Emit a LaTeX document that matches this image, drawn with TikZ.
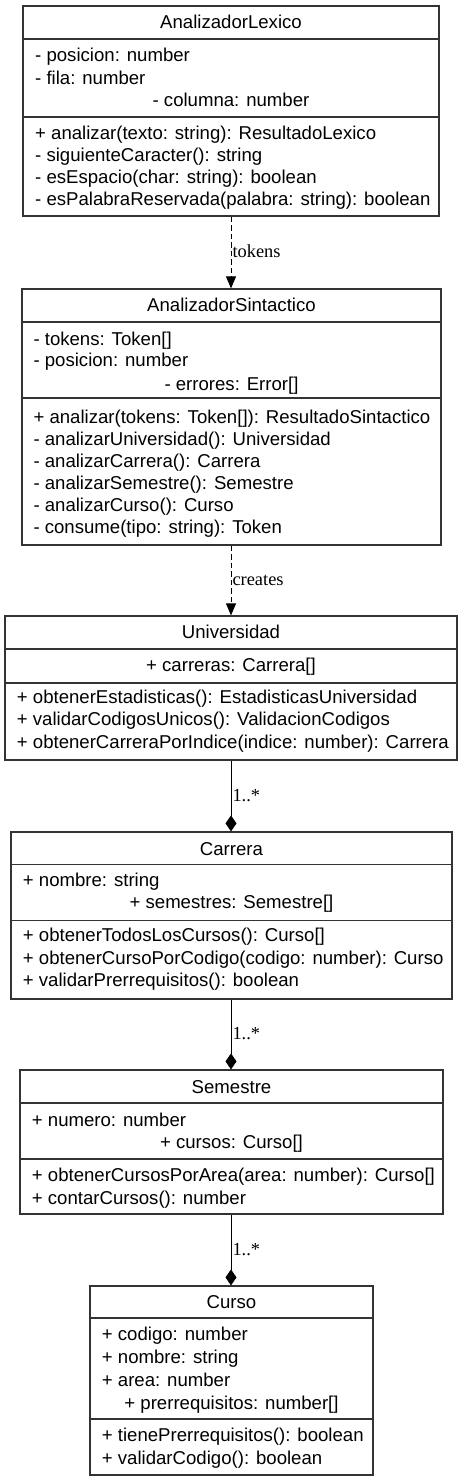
\documentclass[tikz,border=0pt]{standalone}
\usepackage{fontspec}
\setmainfont{Liberation Sans}
\newfontfamily\edgefont{Liberation Serif}
\usetikzlibrary{arrows.meta,positioning}

\tikzset{
  classbox/.style={draw=black!80, line width=1.2pt, fill=white, inner sep=0pt},
  classline/.style={draw=black!80, line width=1.2pt},
  classtitle/.style={font=\fontsize{18.6}{22}\selectfont, anchor=base, inner sep=0pt},
  member/.style={font=\fontsize{18.6}{22}\selectfont, anchor=base west, inner sep=0pt},
  midmember/.style={font=\fontsize{18.6}{22}\selectfont, anchor=base, inner sep=0pt},
  edgelabel/.style={font=\edgefont\fontsize{18.4}{22}\selectfont, anchor=base west, inner sep=0pt},
  dep/.style={line width=1pt, dash pattern=on 5.5pt off 3pt, -{Triangle[length=12pt,width=10pt]}},
  comp/.style={line width=1pt, -{Diamond[length=16pt,width=11pt]}}
}

\begin{document}
\begin{tikzpicture}[x=1pt, y=-1pt]
  \useasboundingbox (0,0) rectangle (463,1481);

  % AnalizadorLexico
  \node[classbox, minimum width=416pt, minimum height=210pt] (lexico) at (231,111) {};
  \draw[classline] (lexico.west |- 0,39) -- (lexico.east |- 0,39);
  \draw[classline] (lexico.west |- 0,117) -- (lexico.east |- 0,117);
  \node[classtitle] (lexicoT) at (231,28.3) {AnalizadorLexico};
  \node[member] (lexicoA0) at (35,61.7) {- posicion: number};
  \node[member] (lexicoA1) at (35,84.1) {- fila: number};
  \node[midmember] (lexicoA2) at (231,106) {- columna: number};
  \foreach \txt [count=\i from 0] in {+ analizar(texto: string): ResultadoLexico,
      - siguienteCaracter(): string, - esEspacio(char: string): boolean,
      - esPalabraReservada(palabra: string): boolean}
    \node[member] (lexicoM\i) at (35,139.3+22.2*\i) {\txt};

  % AnalizadorSintactico
  \node[classbox, minimum width=419pt, minimum height=256pt] (sintactico) at (231.5,417) {};
  \draw[classline] (sintactico.west |- 0,322) -- (sintactico.east |- 0,322);
  \draw[classline] (sintactico.west |- 0,398) -- (sintactico.east |- 0,398);
  \node[classtitle] (sintacticoT) at (231.5,311.7) {AnalizadorSintactico};
  \node[member] (sintacticoA0) at (33.3,345) {- tokens: Token[]};
  \node[member] (sintacticoA1) at (33.3,366.9) {- posicion: number};
  \node[midmember] (sintacticoA2) at (231.5,390) {- errores: Error[]};
  \foreach \txt [count=\i from 0] in {+ analizar(tokens: Token[]): ResultadoSintactico,
      - analizarUniversidad(): Universidad, - analizarCarrera(): Carrera,
      - analizarSemestre(): Semestre, - analizarCurso(): Curso,
      - consume(tipo: string): Token}
    \node[member] (sintacticoM\i) at (33.3,423.3+22*\i) {\txt};

  % Universidad
  \node[classbox, minimum width=452pt, minimum height=144pt] (universidad) at (231,688) {};
  \draw[classline] (universidad.west |- 0,649) -- (universidad.east |- 0,649);
  \draw[classline] (universidad.west |- 0,683) -- (universidad.east |- 0,683);
  \node[classtitle] (universidadT) at (231,638.3) {Universidad};
  \node[midmember] (universidadA0) at (231,671.7) {+ carreras: Carrera[]};
  \foreach \txt [count=\i from 0] in {+ obtenerEstadisticas(): EstadisticasUniversidad,
      + validarCodigosUnicos(): ValidacionCodigos,
      + obtenerCarreraPorIndice(indice: number): Carrera}
    \node[member] (universidadM\i) at (16.7,703.3+22.5*\i) {\txt};

  % Carrera
  \node[classbox, minimum width=441pt, minimum height=167pt] (carrera) at (231.5,915.5) {};
  \draw[classline] (carrera.west |- 0,864.7) -- (carrera.east |- 0,864.7);
  \draw[classline] (carrera.west |- 0,920.7) -- (carrera.east |- 0,920.7);
  \node[classtitle] (carreraT) at (231.5,855) {Carrera};
  \node[member] (carreraA0) at (22.7,886.7) {+ nombre: string};
  \node[midmember] (carreraA1) at (231.5,908.3) {+ semestres: Semestre[]};
  \foreach \txt [count=\i from 0] in {+ obtenerTodosLosCursos(): Curso[],
      + obtenerCursoPorCodigo(codigo: number): Curso,
      + validarPrerrequisitos(): boolean}
    \node[member] (carreraM\i) at (22.7,941.7+22.5*\i) {\txt};

  % Semestre
  \node[classbox, minimum width=423pt, minimum height=144pt] (semestre) at (231.5,1142) {};
  \draw[classline] (semestre.west |- 0,1103) -- (semestre.east |- 0,1103);
  \draw[classline] (semestre.west |- 0,1159) -- (semestre.east |- 0,1159);
  \node[classtitle] (semestreT) at (231.5,1093.3) {Semestre};
  \node[member] (semestreA0) at (31.7,1126) {+ numero: number};
  \node[midmember] (semestreA1) at (231.5,1148.3) {+ cursos: Curso[]};
  \node[member] (semestreM0) at (31.7,1181.7) {+ obtenerCursosPorArea(area: number): Curso[]};
  \node[member] (semestreM1) at (31.7,1204) {+ contarCursos(): number};

  % Curso
  \node[classbox, minimum width=283pt, minimum height=189pt] (curso) at (231.5,1380.5) {};
  \draw[classline] (curso.west |- 0,1318) -- (curso.east |- 0,1318);
  \draw[classline] (curso.west |- 0,1419) -- (curso.east |- 0,1419);
  \node[classtitle] (cursoT) at (231.5,1308.3) {Curso};
  \foreach \txt [count=\i from 0] in {+ codigo: number, + nombre: string, + area: number}
    \node[member] (cursoA\i) at (101.7,1340.7+22.7*\i) {\txt};
  \node[midmember] (cursoA3) at (231.5,1409.3) {+ prerrequisitos: number[]};
  \node[member] (cursoM0) at (101.7,1441.7) {+ tienePrerrequisitos(): boolean};
  \node[member] (cursoM1) at (101.7,1464) {+ validarCodigo(): boolean};

  % relations
  \draw[dep] (lexico.south -| 231,0) -- (sintactico.north -| 231,0);
  \node[edgelabel] (tokensL) at (232.3,257.7) {tokens};
  \draw[dep] (sintactico.south -| 231,0) -- (universidad.north -| 231,0);
  \node[edgelabel] (createsL) at (232.3,585) {creates};
  \draw[comp] (universidad.south -| 231,0) -- (carrera.north -| 231,0);
  \node[edgelabel] (carreraL) at (232.3,801) {1..*};
  \draw[comp] (carrera.south -| 231,0) -- (semestre.north -| 231,0);
  \node[edgelabel] (semestreL) at (232.3,1039) {1..*};
  \draw[comp] (semestre.south -| 231,0) -- (curso.north -| 231,0);
  \node[edgelabel] (cursoL) at (232.3,1255) {1..*};
\end{tikzpicture}
\end{document}
